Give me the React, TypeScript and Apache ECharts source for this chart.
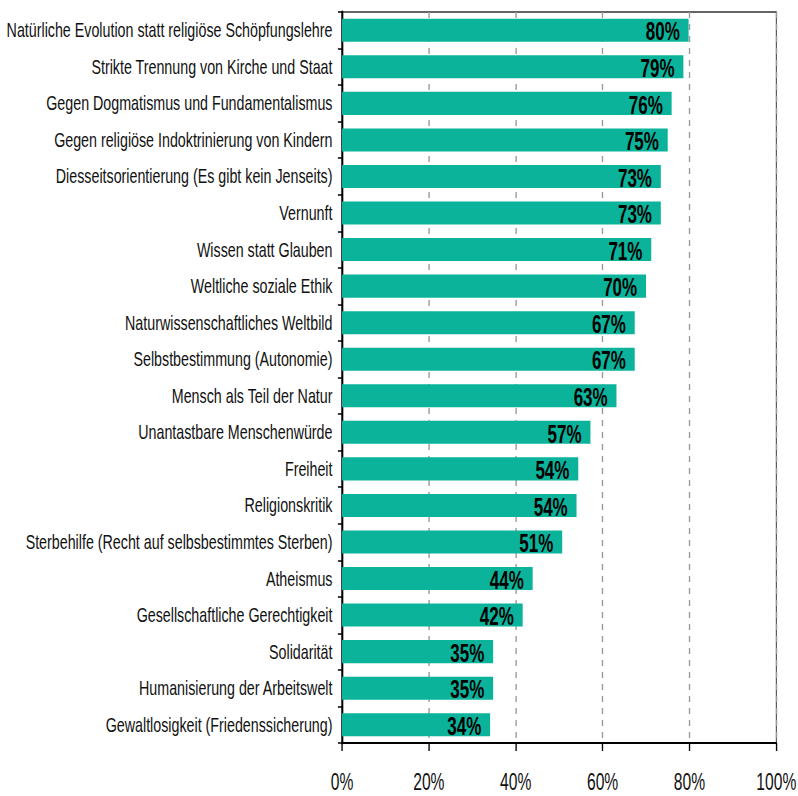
import React, { useEffect, useRef } from "react";
import * as echarts from "echarts";

const categories: string[] = [
  "Natürliche Evolution statt religiöse Schöpfungslehre",
  "Strikte Trennung von Kirche und Staat",
  "Gegen Dogmatismus und Fundamentalismus",
  "Gegen religiöse Indoktrinierung von Kindern",
  "Diesseitsorientierung (Es gibt kein Jenseits)",
  "Vernunft",
  "Wissen statt Glauben",
  "Weltliche soziale Ethik",
  "Naturwissenschaftliches Weltbild",
  "Selbstbestimmung (Autonomie)",
  "Mensch als Teil der Natur",
  "Unantastbare Menschenwürde",
  "Freiheit",
  "Religionskritik",
  "Sterbehilfe (Recht auf selbsbestimmtes Sterben)",
  "Atheismus",
  "Gesellschaftliche Gerechtigkeit",
  "Solidarität",
  "Humanisierung der Arbeitswelt",
  "Gewaltlosigkeit (Friedenssicherung)",
];

const values: number[] = [
  79.8, 78.6, 75.9, 75.0, 73.4, 73.4, 71.2, 70.0, 67.4, 67.4,
  63.2, 57.2, 54.4, 54.0, 50.7, 43.9, 41.6, 34.8, 34.8, 34.1,
];

const xTicks: number[] = [0, 20, 40, 60, 80, 100];

const FONT = "'Liberation Sans', Arial, sans-serif";

// The reference uses a horizontally condensed sans; emulate it by drawing
// on a wider canvas and compressing it horizontally.
const VIEW_W = 798;
const VIEW_H = 796;
const SX = 0.68;
const CHART_W = VIEW_W / SX;

export default function App() {
  const ref = useRef<HTMLDivElement>(null);
  useEffect(() => {
    document.body.style.margin = "0";
    if (!ref.current) return;
    const chart = echarts.init(ref.current, undefined, { renderer: "svg" });
    chart.setOption({
      animation: false,
      backgroundColor: "#ffffff",
      grid: {
        left: 342 / SX,
        right: 22 / SX,
        top: 12,
        bottom: 53,
        show: true,
        borderColor: "#333",
        borderWidth: 1.4,
        outerBoundsMode: "none",
        containLabel: false,
      },
      xAxis: {
        type: "value",
        min: xTicks[0],
        max: xTicks[xTicks.length - 1],
        interval: 20,
        axisLine: { show: true, lineStyle: { color: "#000", width: 2 } },
        axisTick: { show: true, length: 8, lineStyle: { color: "#000", width: 2 } },
        axisLabel: {
          formatter: "{value}%",
          fontFamily: FONT,
          fontSize: 23,
          lineHeight: 18,
          color: "#111",
          margin: 30,
        },
        splitLine: {
          show: true,
          lineStyle: { color: "#999", type: [6, 6], width: 2 },
        },
      },
      yAxis: {
        type: "category",
        data: categories,
        inverse: true,
        axisLine: { show: true, lineStyle: { color: "#000", width: 2.8 } },
        axisTick: { show: true, length: 6, lineStyle: { color: "#000", width: 1.5 } },
        axisLabel: {
          fontFamily: FONT,
          fontSize: 21,
          color: "#111",
          margin: 14,
        },
        splitLine: { show: false },
      },
      series: [
        {
          type: "bar",
          data: values,
          barCategoryGap: "37%",
          itemStyle: { color: "#0bb39b" },
          label: {
            show: true,
            position: "insideRight",
            distance: 13,
            offset: [0, 2],
            formatter: (p: any) => Math.round(p.value) + "%",
            fontFamily: FONT,
            fontWeight: "bold",
            fontSize: 25,
            color: "#000",
          },
        },
      ],
    });
    return () => chart.dispose();
  }, []);
  return (
    <div style={{ width: VIEW_W, height: VIEW_H, overflow: "hidden", position: "relative" }}>
      <div
        ref={ref}
        style={{
          width: CHART_W,
          height: VIEW_H,
          transform: `scaleX(${SX})`,
          transformOrigin: "0 0",
        }}
      />
    </div>
  );
}
